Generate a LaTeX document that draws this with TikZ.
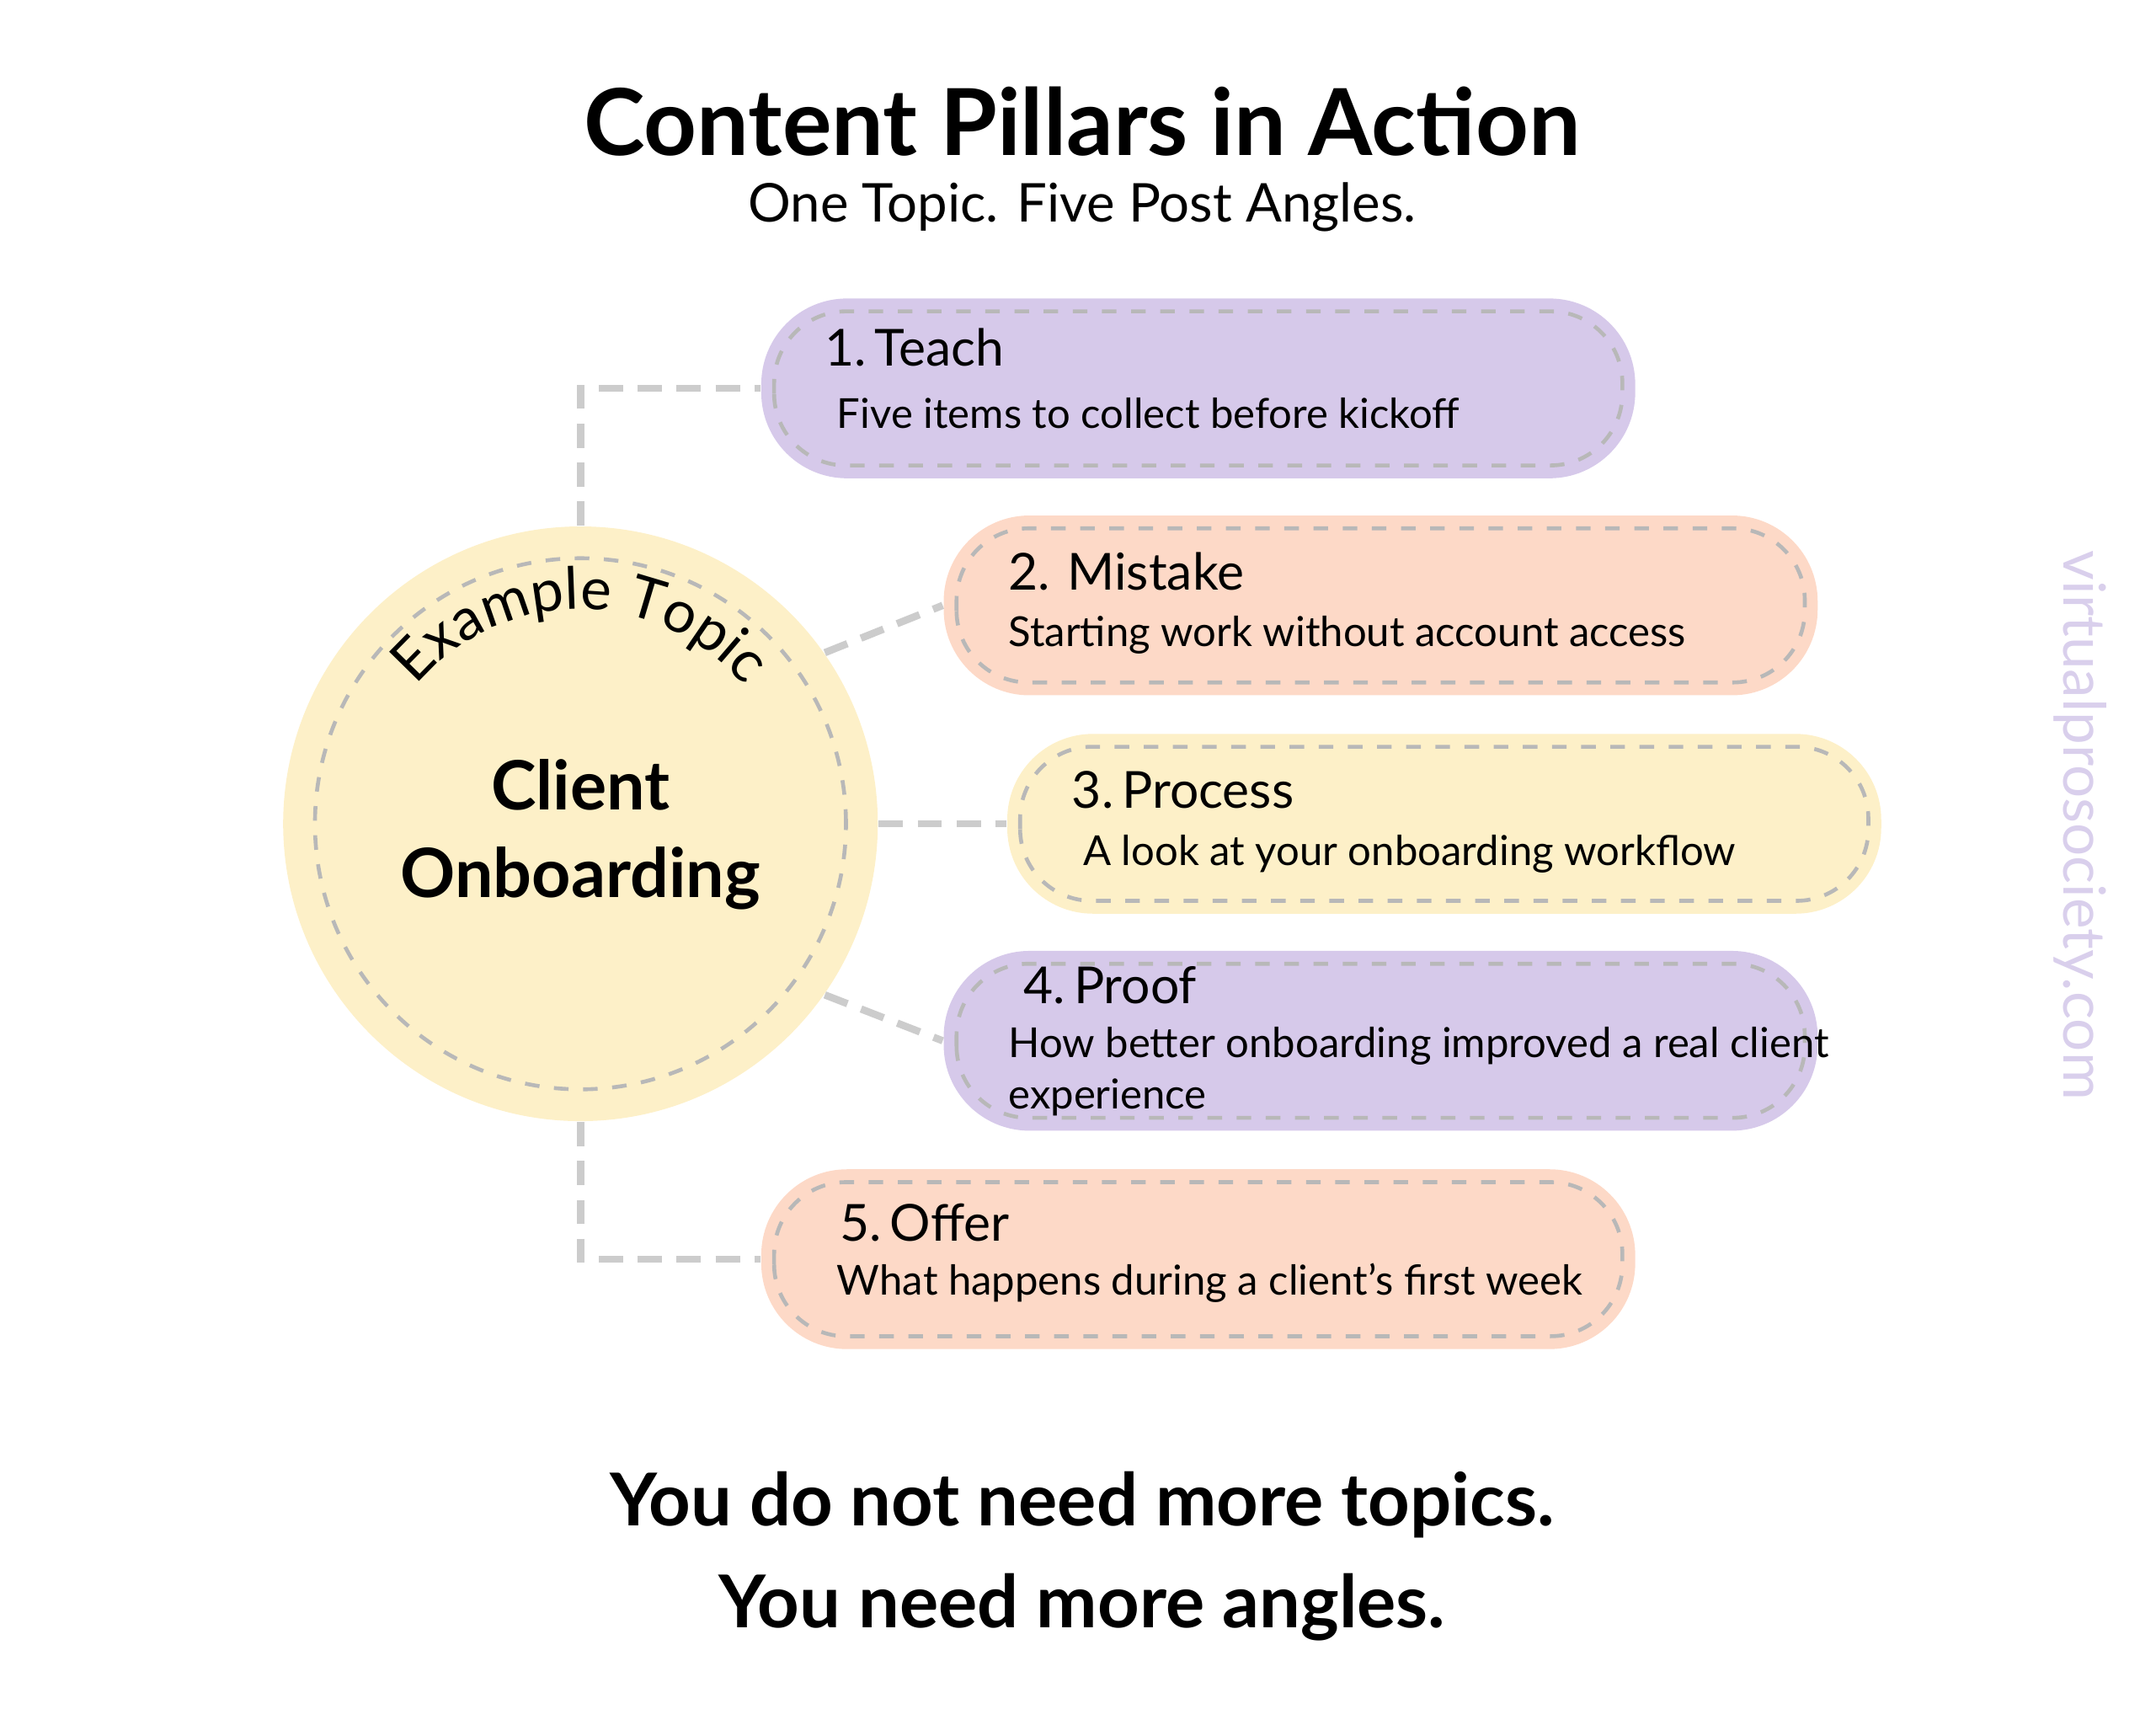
\documentclass[tikz,border=0pt]{standalone}
\usepackage{fontspec}
\setmainfont{Lato}
\usepackage{xcolor}
\usetikzlibrary{positioning,decorations.text}
\definecolor{pillpurple}{HTML}{D6C9EA}
\definecolor{pillpeach}{HTML}{FDD9C7}
\definecolor{pillyellow}{HTML}{FDF0C8}
\definecolor{linkgray}{HTML}{CCCCCC}
\definecolor{markpurple}{HTML}{D9CFEC}
\tikzset{
  pill/.style={rounded corners=0.62cm, minimum width=6.32cm, minimum height=1.3cm, inner sep=0pt},
  innerdash/.style={draw=linkgray!90!black, dashed, line width=0.8pt, rounded corners=0.52cm},
  link/.style={draw=linkgray, line width=1.5pt, dash pattern=on 5pt off 3pt},
  head/.style={anchor=base west, inner sep=0pt, font=\fontsize{10.5}{12}\selectfont},
  desc/.style={anchor=base west, inner sep=0pt, font=\fontsize{8.5}{10}\selectfont, align=left}
}
\begin{document}
\begin{tikzpicture}[x=0.01cm,y=0.01cm]
    \useasboundingbox (0,0) rectangle (1560,1248);
    % title
    \node[font=\bfseries\fontsize{19}{22}\selectfont] (title) at (783,1160) {Content Pillars in Action};
    \node[font=\fontsize{11}{13}\selectfont] (subtitle) at (783,1098) {One Topic. Five Post Angles.};
    % topic circle
    \node[circle, fill=pillyellow, minimum size=4.3cm, inner sep=0pt] (topic) at (420,652) {};
    \draw[innerdash] (topic.center) circle (1.92cm);
    \path[decorate, decoration={text along path, text align=center,
        text={|\fontsize{12}{14}\selectfont|Example Topic}}]
      (420,652) ++(150:1.55cm) arc[start angle=150, end angle=30, radius=1.55cm];
    \node[font=\bfseries\fontsize{14}{18}\selectfont, align=center] (topicname) at (420,644) {Client\\Onboarding};
    % pillars
    \node[pill, fill=pillpurple] (teach) at (867,967) {};
    \node[pill, fill=pillpeach] (mistake) at (999,810) {};
    \node[pill, fill=pillyellow] (process) at (1045,652) {};
    \node[pill, fill=pillpurple] (proof) at (999,495) {};
    \node[pill, fill=pillpeach] (offer) at (867,337) {};
    \foreach \b in {teach,mistake,process,proof,offer}
      \draw[innerdash] ([shift={(10,10)}]\b.south west) rectangle ([shift={(-10,-10)}]\b.north east);
    \node[head] at (596,983) {1.\,Teach};
    \node[desc] at (605,938) {Five items to collect before kickoff};
    \node[head] at (729,821) {2. Mistake};
    \node[desc] at (729,780) {Starting work without account access};
    \node[head] at (775,663) {3.\,Process};
    \node[desc] at (783,622) {A look at your onboarding workflow};
    \node[head] at (740,522) {4.\,Proof};
    \node[desc] at (729,483) {How better onboarding improved a real client};
    \node[desc] at (729,446) {experience};
    \node[head] at (607,350) {5.\,Offer};
    \node[desc] at (605,311) {What happens during a client’s first week};
    % connectors
    \draw[link] (topic.north) |- (teach.west);
    \draw[link] (topic.35) -- (mistake.west);
    \draw[link] (topic.east) -- (process.west);
    \draw[link] (topic.-35) -- (proof.west);
    \draw[link] (topic.south) |- (offer.west);
    % watermark
    \node[rotate=-90, text=markpurple, font=\fontsize{12}{14}\selectfont] (mark) at (1505,651) {virtualprosociety.com};
    % closing line
    \node[font=\bfseries\fontsize{15}{19}\selectfont, align=center] (closing) at (783,122)
      {You do not need more topics.\\[2pt]You need more angles.};
\end{tikzpicture}
\end{document}
